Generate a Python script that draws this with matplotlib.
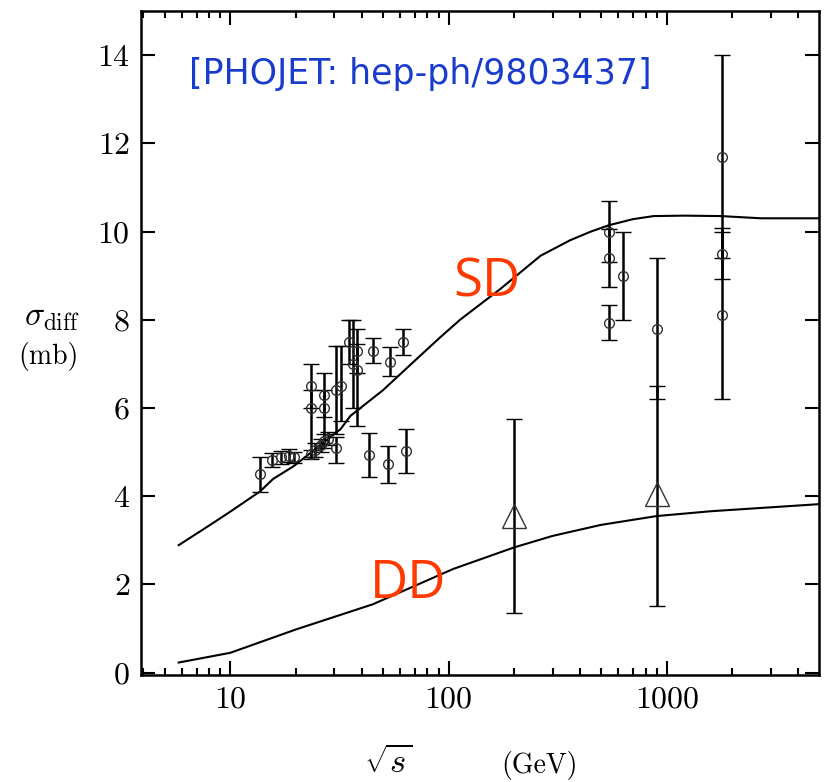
import matplotlib
matplotlib.use("Agg")
import matplotlib.pyplot as plt
from matplotlib.ticker import FixedLocator, NullFormatter, FixedFormatter, MultipleLocator

plt.rcParams['font.family'] = 'serif'
plt.rcParams['font.serif'] = ['cmr10']
plt.rcParams['mathtext.fontset'] = 'cm'
plt.rcParams['axes.formatter.use_mathtext'] = True

# PHOJET curves
sd_curve_x = [5.8, 7, 8.5, 10, 13.7, 15.7, 19.5, 25, 32, 35.5, 50, 70, 92, 113, 173,
              264, 360, 450, 541, 700, 870, 1200, 1770, 2700, 5000]
sd_curve_y = [2.89, 3.15, 3.42, 3.65, 4.11, 4.39, 4.68, 5.1, 5.52, 5.82, 6.4, 7.07, 7.61, 8.0, 8.7,
              9.45, 9.8, 10.0, 10.14, 10.28, 10.35, 10.36, 10.35, 10.3, 10.3]
dd_curve_x = [5.8, 10, 20, 45, 105, 200, 300, 500, 900, 1600, 5000]
dd_curve_y = [0.23, 0.45, 0.98, 1.55, 2.35, 2.84, 3.1, 3.35, 3.55, 3.66, 3.82]

# single diffraction measurements
sd_x = [13.7, 15.5, 17, 18.5, 19.5, 23.5, 24.5, 26, 27, 28, 30.5,
        23.5, 23.5, 27, 27, 30.5, 32, 35, 36.5, 38, 38,
        45, 54, 62, 43, 53, 64,
        546, 546, 546, 630, 900, 1800, 1800, 1800]
sd_y = [4.5, 4.82, 4.88, 4.92, 4.88, 4.95, 5.05, 5.15, 5.25, 5.3, 5.1,
        6.5, 6.0, 6.3, 6.0, 6.4, 6.5, 7.5, 7.0, 7.3, 6.85,
        7.3, 7.05, 7.5, 4.93, 4.73, 5.02,
        10.0, 9.4, 7.93, 9.0, 7.8, 11.7, 9.5, 8.1]
sd_lo = [0.4, 0.15, 0.15, 0.15, 0.12, 0.1, 0.15, 0.15, 0.15, 0.15, 0.35,
         0.5, 1.1, 0.5, 0.8, 1.0, 0.8, 0.5, 1.0, 0.5, 1.25,
         0.27, 0.33, 0.3, 0.5, 0.43, 0.5,
         0.7, 0.65, 0.4, 1.0, 1.6, 2.3, 0.57, 1.9]
sd_hi = [0.4, 0.15, 0.15, 0.15, 0.12, 0.1, 0.15, 0.15, 0.15, 0.15, 0.25,
         0.5, 0.4, 0.5, 0.4, 1.0, 0.9, 0.5, 1.0, 0.5, 0.6,
         0.28, 0.33, 0.3, 0.5, 0.4, 0.5,
         0.7, 0.65, 0.4, 1.0, 1.6, 2.3, 0.57, 1.9]

# double diffraction measurements
dd_x = [200, 900]
dd_y = [3.55, 4.05]
dd_lo = [2.2, 2.55]
dd_hi = [2.2, 2.45]

fig = plt.figure(figsize=(8.25, 7.82), dpi=100)
ax = fig.add_axes([0.171, 0.137, 0.822, 0.849])

ax.plot(sd_curve_x, sd_curve_y, color='black', lw=1.5)
ax.plot(dd_curve_x, dd_curve_y, color='black', lw=1.5)

ax.errorbar(sd_x, sd_y, yerr=[sd_lo, sd_hi], fmt='o', ms=7, mfc='none', mec='#333333',
            mew=1.0, ecolor='black', elinewidth=1.8, capsize=6, capthick=1.8)
ax.errorbar(dd_x, dd_y, yerr=[dd_lo, dd_hi], fmt='^', ms=17, mfc='none', mec='#333333',
            mew=1.0, ecolor='black', elinewidth=1.8, capsize=6, capthick=1.8)

ax.set_xscale('log')
ax.set_xlim(3.9, 5000)
ax.set_ylim(-0.05, 15)

ax.xaxis.set_major_locator(FixedLocator([10, 100, 1000]))
ax.xaxis.set_major_formatter(FixedFormatter(['10', '100', '1000']))
minors = [m * d for d in (1, 10, 100, 1000) for m in range(2, 10)]
ax.xaxis.set_minor_locator(FixedLocator([v for v in minors if 3.9 < v < 5000]))
ax.xaxis.set_minor_formatter(NullFormatter())
ax.yaxis.set_major_locator(MultipleLocator(2))

ax.tick_params(which='both', direction='in', top=True, right=True, labelsize=23, width=1.5)
ax.tick_params(which='major', length=10, pad=8)
ax.tick_params(which='minor', length=5)
for sp in ax.spines.values():
    sp.set_linewidth(1.8)

fig.text(52 / 825, 1 - 318 / 782, r'$\sigma_{\rm diff}$', fontsize=24, ha='center', va='center')
fig.text(48 / 825, 1 - 356 / 782, '(mb)', fontsize=20, ha='center', va='center')
fig.text(388 / 825, 1 - 763 / 782, r'$\sqrt{s}$', fontsize=25, ha='center', va='center')
fig.text(540 / 825, 1 - 765 / 782, '(GeV)', fontsize=20, ha='center', va='center')

ax.text(0.07, 0.905, '[PHOJET: hep-ph/9803437]', transform=ax.transAxes, fontsize=25,
        color='#1a3ccc', family='DejaVu Sans', ha='left', va='center')
ax.text(150, 8.85, 'SD', fontsize=38, color='#ff3a00', family='Open Sans', ha='center', va='center')
ax.text(65, 2.0, 'DD', fontsize=38, color='#ff3a00', family='Open Sans', ha='center', va='center')

fig.savefig('out.png', dpi=100)
